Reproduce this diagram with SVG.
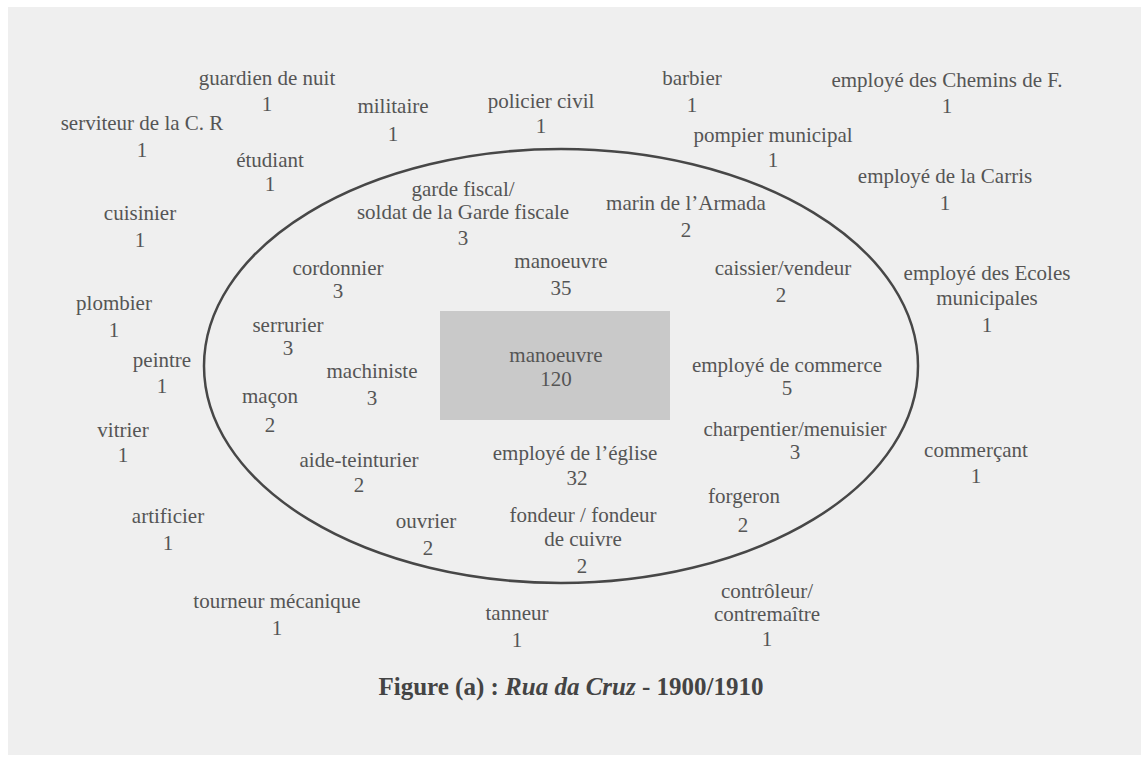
<svg xmlns="http://www.w3.org/2000/svg" width="1141" height="772" viewBox="0 0 1141 772">
  <style>
    .lbl { font-family: "Liberation Serif", "Times New Roman", serif; font-size: 21px; fill: #555; text-anchor: middle; }
    .title { font-family: "Liberation Serif", "Times New Roman", serif; font-size: 25px; font-weight: bold; fill: #444; text-anchor: middle; }
  </style>
  <!-- page -->
  <rect x="0" y="0" width="1141" height="772" fill="#ffffff"/>
  <rect x="8" y="7" width="1133" height="748" fill="#efefef"/>

  <!-- inner circle of trades -->
  <g id="circle">
    <ellipse cx="561" cy="366" rx="357" ry="217" fill="none" stroke="#474747" stroke-width="2.5"/>
  </g>

  <!-- central box -->
  <g id="n-manoeuvre-120">
    <rect x="440" y="311" width="230" height="109" fill="#c9c9c9"/>
    <text class="lbl" x="556" y="362">manoeuvre</text>
    <text class="lbl" x="556" y="386">120</text>
  </g>

  <!-- outer ring -->
  <g id="n-guardien"><text class="lbl" x="267" y="85">guardien de nuit</text><text class="lbl" x="267" y="111">1</text></g>
  <g id="n-serviteur"><text class="lbl" x="142" y="130">serviteur de la C. R</text><text class="lbl" x="142" y="157">1</text></g>
  <g id="n-militaire"><text class="lbl" x="393" y="113">militaire</text><text class="lbl" x="393" y="141">1</text></g>
  <g id="n-etudiant"><text class="lbl" x="270" y="167">étudiant</text><text class="lbl" x="270" y="191">1</text></g>
  <g id="n-cuisinier"><text class="lbl" x="140" y="220">cuisinier</text><text class="lbl" x="140" y="247">1</text></g>
  <g id="n-policier"><text class="lbl" x="541" y="108">policier civil</text><text class="lbl" x="541" y="133">1</text></g>
  <g id="n-barbier"><text class="lbl" x="692" y="85">barbier</text><text class="lbl" x="692" y="112">1</text></g>
  <g id="n-pompier"><text class="lbl" x="773" y="142">pompier municipal</text><text class="lbl" x="773" y="167">1</text></g>
  <g id="n-chemins"><text class="lbl" x="947" y="87">employé des Chemins de F.</text><text class="lbl" x="947" y="113">1</text></g>
  <g id="n-carris"><text class="lbl" x="945" y="183">employé de la Carris</text><text class="lbl" x="945" y="210">1</text></g>
  <g id="n-ecoles"><text class="lbl" x="987" y="280">employé des Ecoles</text><text class="lbl" x="987" y="305">municipales</text><text class="lbl" x="987" y="332">1</text></g>
  <g id="n-plombier"><text class="lbl" x="114" y="310">plombier</text><text class="lbl" x="114" y="337">1</text></g>
  <g id="n-peintre"><text class="lbl" x="162" y="367">peintre</text><text class="lbl" x="162" y="393">1</text></g>
  <g id="n-vitrier"><text class="lbl" x="123" y="437">vitrier</text><text class="lbl" x="123" y="462">1</text></g>
  <g id="n-commercant"><text class="lbl" x="976" y="457">commerçant</text><text class="lbl" x="976" y="483">1</text></g>
  <g id="n-artificier"><text class="lbl" x="168" y="523">artificier</text><text class="lbl" x="168" y="550">1</text></g>
  <g id="n-tourneur"><text class="lbl" x="277" y="608">tourneur mécanique</text><text class="lbl" x="277" y="635">1</text></g>
  <g id="n-tanneur"><text class="lbl" x="517" y="620">tanneur</text><text class="lbl" x="517" y="647">1</text></g>
  <g id="n-controleur"><text class="lbl" x="767" y="598">contrôleur/</text><text class="lbl" x="767" y="621">contremaître</text><text class="lbl" x="767" y="646">1</text></g>

  <!-- inside the circle -->
  <g id="n-garde"><text class="lbl" x="463" y="196">garde fiscal/</text><text class="lbl" x="463" y="219">soldat de la Garde fiscale</text><text class="lbl" x="463" y="245">3</text></g>
  <g id="n-marin"><text class="lbl" x="686" y="210">marin de l’Armada</text><text class="lbl" x="686" y="237">2</text></g>
  <g id="n-cordonnier"><text class="lbl" x="338" y="275">cordonnier</text><text class="lbl" x="338" y="298">3</text></g>
  <g id="n-manoeuvre-35"><text class="lbl" x="561" y="268">manoeuvre</text><text class="lbl" x="561" y="295">35</text></g>
  <g id="n-caissier"><text class="lbl" x="783" y="275">caissier/vendeur</text><text class="lbl" x="781" y="302">2</text></g>
  <g id="n-serrurier"><text class="lbl" x="288" y="332">serrurier</text><text class="lbl" x="288" y="355">3</text></g>
  <g id="n-machiniste"><text class="lbl" x="372" y="378">machiniste</text><text class="lbl" x="372" y="405">3</text></g>
  <g id="n-macon"><text class="lbl" x="270" y="403">maçon</text><text class="lbl" x="270" y="432">2</text></g>
  <g id="n-commerce"><text class="lbl" x="787" y="372">employé de commerce</text><text class="lbl" x="787" y="395">5</text></g>
  <g id="n-charpentier"><text class="lbl" x="795" y="436">charpentier/menuisier</text><text class="lbl" x="795" y="459">3</text></g>
  <g id="n-aide"><text class="lbl" x="359" y="467">aide-teinturier</text><text class="lbl" x="359" y="492">2</text></g>
  <g id="n-eglise"><text class="lbl" x="575" y="460">employé de l’église</text><text class="lbl" x="577" y="485">32</text></g>
  <g id="n-forgeron"><text class="lbl" x="744" y="503">forgeron</text><text class="lbl" x="743" y="532">2</text></g>
  <g id="n-ouvrier"><text class="lbl" x="426" y="528">ouvrier</text><text class="lbl" x="428" y="555">2</text></g>
  <g id="n-fondeur"><text class="lbl" x="583" y="522">fondeur / fondeur</text><text class="lbl" x="583" y="546">de cuivre</text><text class="lbl" x="582" y="573">2</text></g>

  <!-- caption -->
  <g id="caption">
    <text class="title" x="571" y="695">Figure (a) : <tspan font-style="italic">Rua da Cruz</tspan> - 1900/1910</text>
  </g>
</svg>
